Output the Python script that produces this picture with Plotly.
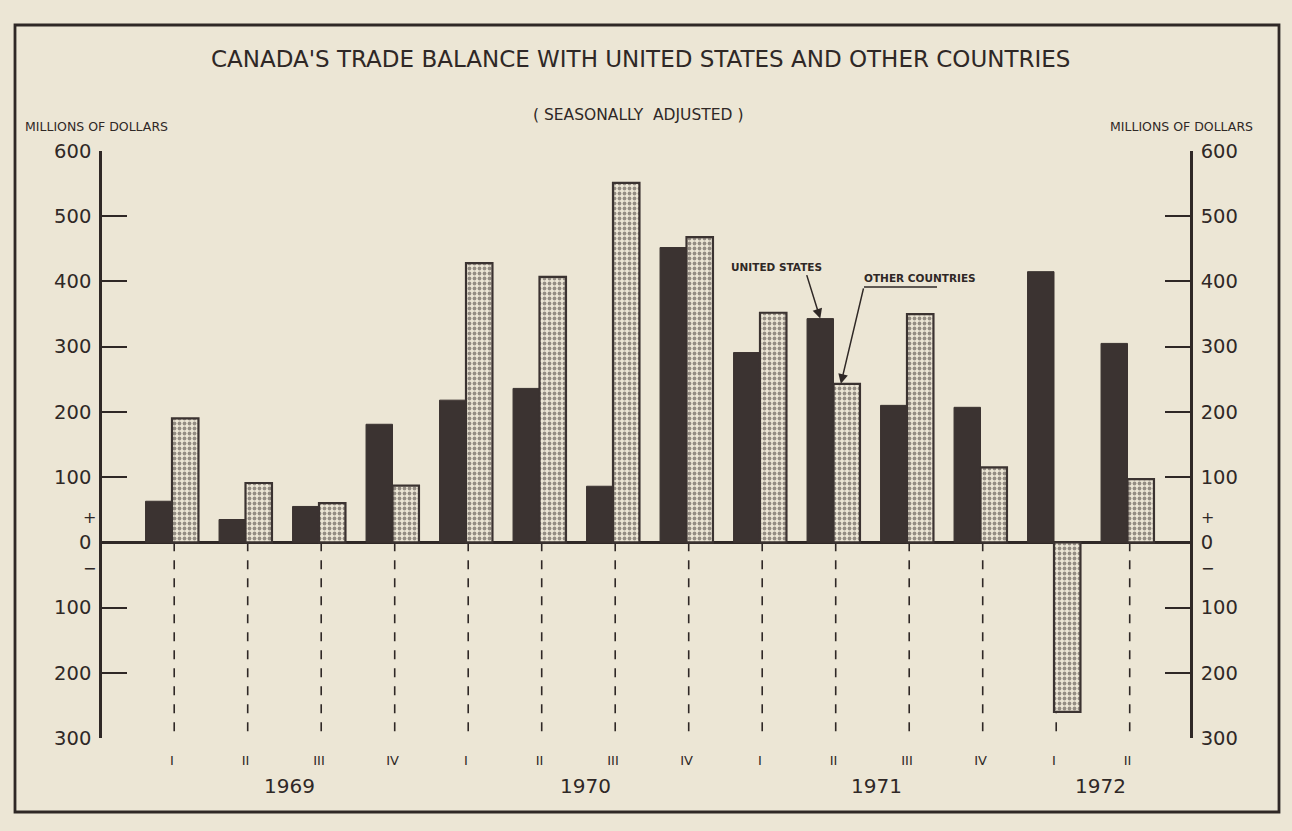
import plotly.graph_objects as go

# ---------------- data ----------------
quarters = ["I", "II", "III", "IV", "I", "II", "III", "IV", "I", "II", "III", "IV", "I", "II"]
years = ["1969", "1970", "1971", "1972"]
us_balance = [63, 35, 55, 181, 218, 236, 86, 452, 291, 343, 210, 207, 415, 305]
other_balance = [190, 91, 60, 87, 428, 407, 551, 468, 352, 243, 350, 115, -260, 97]
tick_vals = [600, 500, 400, 300, 200, 100, 0, -100, -200, -300]
tick_text = ["600", "500", "400", "300", "200", "100", "0", "100", "200", "300"]

# ---------------- styling / layout ----------------
W, H = 1292, 831
L, R, T, B = 102, 1190, 151, 738          # plot area in pixels
BG = "#ece6d5"
INK = "#2f2826"
BAR = "#3b3331"
FONT = "DejaVu Sans"
x0 = -(172 - L) / 73.5
x1 = x0 + (R - L) / 73.5
year_pos = [1.6, 5.62, 9.58, 12.63]
xs = list(range(len(quarters)))


def px(xp):
    return (xp - L) / (R - L)


def py(yp):
    return (B - yp) / (B - T)


fig = go.Figure()
fig.add_trace(go.Bar(
    x=xs, y=us_balance, width=0.36, offset=-0.36, name="United States",
    marker=dict(color=BAR, line=dict(color=BAR, width=1)),
    showlegend=False, hoverinfo="skip"))
fig.add_trace(go.Bar(
    x=xs, y=other_balance, width=0.36, offset=0.0, name="Other countries",
    marker=dict(color=BG, line=dict(color=BAR, width=2.2),
                pattern=dict(shape=".", fgcolor=BAR, bgcolor=BG, size=5, solidity=0.45)),
    showlegend=False, hoverinfo="skip"))
fig.add_trace(go.Scatter(x=[None], y=[None], yaxis="y2", showlegend=False, hoverinfo="skip"))

axis_common = dict(
    range=[-300, 600], tickvals=tick_vals, ticktext=tick_text,
    ticks="inside", ticklen=25, tickwidth=2, tickcolor=INK,
    showline=True, linewidth=2.5, linecolor=INK, showgrid=False,
    tickfont=dict(family=FONT, size=19.5, color=INK), fixedrange=True,
    ticklabelstandoff=4,
)

fig.update_layout(
    width=W, height=H,
    margin=dict(l=L, r=W - R, t=T, b=H - B, pad=0),
    paper_bgcolor=BG, plot_bgcolor=BG,
    barmode="overlay",
    font=dict(family=FONT, color=INK),
    xaxis=dict(range=[x0, x1], tickvals=xs, ticktext=quarters, ticks="outside",
               ticklen=10, tickcolor="rgba(0,0,0,0)", showline=False, showgrid=False,
               zeroline=False, tickfont=dict(family=FONT, size=13, color=INK)),
    yaxis=dict(**axis_common, side="left", zeroline=True, zerolinewidth=2.5,
               zerolinecolor=INK),
    yaxis2=dict(**axis_common, side="right", overlaying="y", zeroline=False),
)

# dashed quarter separators
for x in xs:
    fig.add_shape(type="line", xref="x", yref="y", x0=x + 0.03, x1=x + 0.03, y0=0, y1=-300,
                  line=dict(color=INK, width=1.6, dash="dash"), layer="below")

# frame
fig.add_shape(type="rect", xref="paper", yref="paper", x0=px(15), x1=px(1279),
              y0=py(812), y1=py(25), line=dict(color=INK, width=2.8))

ann = []
ann.append(dict(text="CANADA'S TRADE BALANCE WITH UNITED STATES AND OTHER COUNTRIES",
                x=px(640), y=py(59), font=dict(size=23)))
ann.append(dict(text="( SEASONALLY  ADJUSTED )", x=px(638), y=py(115), font=dict(size=15.5)))
ann.append(dict(text="MILLIONS OF DOLLARS", x=px(96), y=py(127), font=dict(size=12.5)))
ann.append(dict(text="MILLIONS OF DOLLARS", x=px(1181), y=py(127), font=dict(size=12.5)))
for side_x in (89, 1207):
    ann.append(dict(text="+", x=px(side_x), y=py(517), font=dict(size=16)))
    ann.append(dict(text="\u2212", x=px(side_x), y=py(568), font=dict(size=16)))
for yr, xp in zip(years, year_pos):
    ann.append(dict(text=yr, x=px(172 + 73.5 * xp), y=py(786), font=dict(size=20)))
ann.append(dict(text="<b>UNITED STATES</b>", x=px(776), y=py(267), font=dict(size=10.5)))
ann.append(dict(text="<b>OTHER COUNTRIES</b>", x=px(920), y=py(278), font=dict(size=10.5)))
for a in ann:
    a.update(xref="paper", yref="paper", showarrow=False, xanchor="center", yanchor="middle")
    a["font"] = dict(family=FONT, color=INK, **a["font"])
    fig.add_annotation(**a)

# leader arrows of the labels
fig.add_annotation(x=8.82, y=343, xref="x", yref="y", text="", showarrow=True,
                   ax=-14, ay=-45, arrowhead=2, arrowsize=1.3, arrowwidth=1.5, arrowcolor=INK)
fig.add_annotation(x=9.1, y=243, xref="x", yref="y", text="", showarrow=True,
                   ax=23, ay=-97, arrowhead=2, arrowsize=1.3, arrowwidth=1.5, arrowcolor=INK)
fig.add_shape(type="line", xref="paper", yref="paper", x0=px(864), x1=px(937),
              y0=py(287), y1=py(287), line=dict(color=INK, width=1.5))

fig.write_html("out.html", config={"displayModeBar": False},
               post_script="document.body.style.margin='0';")
